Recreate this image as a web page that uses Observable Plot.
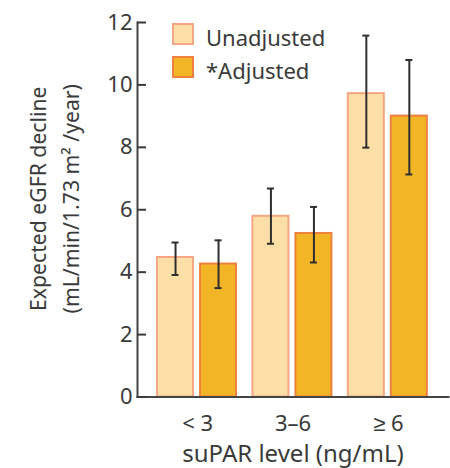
<!DOCTYPE html>
<html>
<head>
<meta charset="utf-8">
<script src="https://cdn.jsdelivr.net/npm/d3@7"></script>
<script src="https://cdn.jsdelivr.net/npm/@observablehq/plot@0.6"></script>
<style>
  html, body { margin: 0; padding: 0; background: #fff; }
  #wrap { position: relative; width: 450px; height: 468px; font-family: "Noto Sans", sans-serif; color: #3a3a3a; }
  #legend { position: absolute; left: 172px; top: 23px; }
  .row { display: flex; align-items: center; height: 22px; margin-bottom: 11px; }
  .sw { box-sizing: border-box; width: 22px; height: 22px; border: 2px solid; }
  .lbl { margin-left: 12px; font-size: 22px; position: relative; top: 3px; white-space: nowrap; }
</style>
</head>
<body>
<div id="wrap"></div>
<script>
const categories = ["< 3", "3–6", "≥ 6"];
const seriesKeys = ["Unadjusted", "Adjusted"];
const seriesLabels = ["Unadjusted", "*Adjusted"];
const unadjusted = [4.47, 5.79, 9.72];
const unadjustedLow = [3.91, 4.91, 7.99];
const unadjustedHigh = [4.95, 6.68, 11.58];
const adjusted = [4.26, 5.24, 9.0];
const adjustedLow = [3.49, 4.31, 7.13];
const adjustedHigh = [5.02, 6.09, 10.8];
const yTicks = [0, 2, 4, 6, 8, 10, 12];
const xTitle = "suPAR level (ng/mL)";
const yTitle = "Expected eGFR decline\n(mL/min/1.73 m\u00B2 /year)";

const fills = ["#FCDFA7", "#F2B526"];
const strokes = ["#F6A684", "#EE8040"];

const rows = [];
categories.forEach((c, i) => {
  rows.push({cat: c, series: seriesKeys[0], value: unadjusted[i], lo: unadjustedLow[i], hi: unadjustedHigh[i]});
  rows.push({cat: c, series: seriesKeys[1], value: adjusted[i], lo: adjustedLow[i], hi: adjustedHigh[i]});
});

const ink = "#3a3a3a";
const W = 450, H = 468, mL = 137, mR = 2;
const fxPadIn = 0.16, fxPadOut = 0.21;
// distance between the plot frame edge and the outer facets (fx outer padding)
const fxStep = (W - mL - mR) / (categories.length - fxPadIn + 2 * fxPadOut);
const edge = fxPadOut * fxStep;

const chart = Plot.plot({
  width: W,
  height: H,
  marginTop: 22,
  marginBottom: 71.5,
  marginLeft: mL,
  marginRight: mR,
  style: {fontFamily: "'Noto Sans', sans-serif", fontSize: "22px", color: ink, background: "#fff"},
  fx: {domain: categories, paddingInner: fxPadIn, paddingOuter: fxPadOut, round: false},
  x: {domain: seriesKeys, paddingInner: 0.155, paddingOuter: 0, axis: null},
  y: {domain: [0, 12]},
  marks: [
    Plot.barY(rows.filter(d => d.series === seriesKeys[0]), {fx: "cat", x: "series", y: "value", fill: fills[0], stroke: strokes[0], strokeWidth: 2}),
    Plot.barY(rows.filter(d => d.series === seriesKeys[1]), {fx: "cat", x: "series", y: "value", fill: fills[1], stroke: strokes[1], strokeWidth: 2}),
    Plot.ruleX(rows, {fx: "cat", x: "series", y1: "lo", y2: "hi", stroke: "#2e2e2e", strokeWidth: 2}),
    Plot.tickY(rows, {fx: "cat", x: "series", y: "lo", insetLeft: 14.5, insetRight: 14.5, stroke: "#2e2e2e", strokeWidth: 2}),
    Plot.tickY(rows, {fx: "cat", x: "series", y: "hi", insetLeft: 14.5, insetRight: 14.5, stroke: "#2e2e2e", strokeWidth: 2}),
    Plot.frame({anchor: "bottom", facet: "super", insetLeft: -edge, insetRight: -edge, stroke: "#444", strokeWidth: 2}),
    Plot.frame({anchor: "left", facet: "super", insetLeft: -edge, stroke: "#444", strokeWidth: 2}),
    Plot.axisY({ticks: yTicks, tickSize: 9, dx: 9 - edge, tickPadding: 5, fontSize: 22, strokeWidth: 2, label: null}),
    Plot.axisFx({anchor: "bottom", tickSize: 0, tickPadding: 18, fontSize: 22, label: null}),
    Plot.axisFx({anchor: "bottom", tickSize: 0, text: null, fontSize: 24, label: xTitle, labelAnchor: "center", labelOffset: 65}),
    Plot.text([yTitle], {facet: "super", frameAnchor: "left", text: d => d, rotate: -90, dx: -85.5 - edge, dy: -11, fontSize: 21.2, lineHeight: 1.56, textAnchor: "middle", lineAnchor: "middle", fill: ink})
  ]
});

const wrap = document.getElementById("wrap");
wrap.appendChild(chart);

const legend = document.createElement("div");
legend.id = "legend";
seriesLabels.forEach((label, i) => {
  const row = document.createElement("div");
  row.className = "row";
  const sw = document.createElement("span");
  sw.className = "sw";
  sw.style.background = fills[i];
  sw.style.borderColor = strokes[i];
  const t = document.createElement("span");
  t.className = "lbl";
  t.textContent = label;
  row.appendChild(sw);
  row.appendChild(t);
  legend.appendChild(row);
});
wrap.appendChild(legend);
</script>
</body>
</html>
